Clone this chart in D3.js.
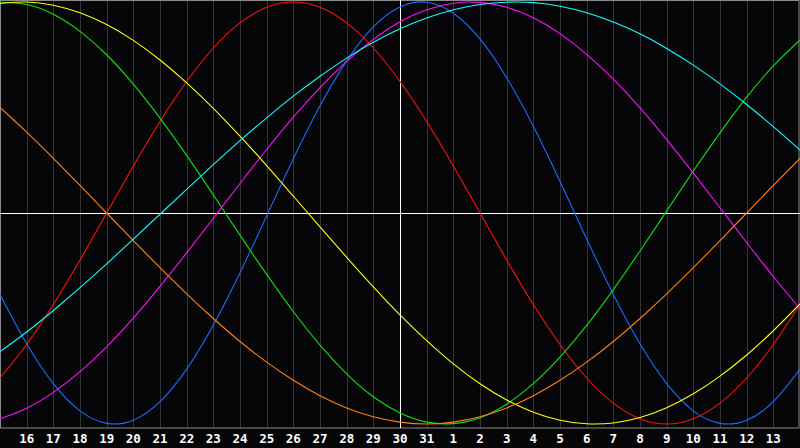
<!DOCTYPE html>
<html>
<head>
<meta charset="utf-8">
<script src="https://cdn.jsdelivr.net/npm/d3@7"></script>
<style>
  body { margin: 0; background: #060609; }
  svg { display: block; }
</style>
</head>
<body>
<div id="chart"></div>
<script>
// Day labels along the bottom (one per grid line)
const dayLabels = ["16","17","18","19","20","21","22","23","24","25","26","27","28","29","30","31",
                   "1","2","3","4","5","6","7","8","9","10","11","12","13"];

// Cycle values (-1..1), one per day (31 days, left edge to right edge)
const physical = [-0.386,-0.620,-0.809,-0.938,-0.997,-0.982,-0.894,-0.740,-0.531,-0.283,-0.014,0.257,0.508,0.721,0.882,0.976,
                  0.999,0.947,0.825,0.641,0.411,0.150,-0.123,-0.386,-0.620,-0.809,-0.938,-0.997,-0.982,-0.894,-0.740];
const emotional = [-0.782,-0.623,-0.434,-0.223,0.000,0.223,0.434,0.623,0.782,0.901,0.975,1.000,0.975,0.901,0.782,0.623,
                   0.434,0.223,0.000,-0.223,-0.434,-0.623,-0.782,-0.901,-0.975,-1.000,-0.975,-0.901,-0.782,-0.623,-0.434];
const intellectual = [0.999,0.988,0.942,0.861,0.750,0.611,0.450,0.273,0.086,-0.105,-0.291,-0.467,-0.626,-0.762,-0.871,-0.948,
                      -0.991,-0.998,-0.970,-0.906,-0.809,-0.683,-0.533,-0.363,-0.180,0.010,0.199,0.380,0.549,0.697,0.820];
const intuitive = [-0.975,-0.925,-0.850,-0.752,-0.634,-0.498,-0.348,-0.189,-0.025,0.140,0.301,0.454,0.594,0.719,0.823,0.906,
                   0.963,0.994,0.998,0.975,0.925,0.850,0.752,0.634,0.498,0.348,0.189,0.025,-0.140,-0.301,-0.454];
const aesthetic = [0.993,1.000,0.985,0.949,0.893,0.818,0.725,0.617,0.496,0.364,0.225,0.080,-0.066,-0.210,-0.350,-0.483,
                   -0.605,-0.715,-0.809,-0.886,-0.944,-0.982,-0.999,-0.995,-0.969,-0.923,-0.857,-0.773,-0.673,-0.558,-0.431];
const awareness = [0.500,0.383,0.259,0.131,0.000,-0.131,-0.259,-0.383,-0.500,-0.609,-0.707,-0.793,-0.866,-0.924,-0.966,-0.991,
                   -1.000,-0.991,-0.966,-0.924,-0.866,-0.793,-0.707,-0.609,-0.500,-0.383,-0.259,-0.131,0.000,0.131,0.259];
const spiritual = [-0.657,-0.564,-0.462,-0.354,-0.241,-0.124,-0.006,0.112,0.229,0.343,0.451,0.554,0.648,0.734,0.809,0.873,
                   0.924,0.963,0.988,0.999,0.997,0.980,0.949,0.905,0.849,0.780,0.701,0.612,0.514,0.409,0.298];

const series = [
  { name: "Physical", values: physical, color: "#1a6cff" },
  { name: "Emotional", values: emotional, color: "#ff1010" },
  { name: "Intellectual", values: intellectual, color: "#10e010" },
  { name: "Intuitive", values: intuitive, color: "#ff10ff" },
  { name: "Aesthetic", values: aesthetic, color: "#ffff10" },
  { name: "Awareness", values: awareness, color: "#ff8010" },
  { name: "Spiritual", values: spiritual, color: "#10ffff" }
];

const width = 800, height = 448;
const plotBottom = 428;

const svg = d3.select("#chart").append("svg")
    .attr("width", width)
    .attr("height", height)
    .style("background", "#060609");

// x: day index 0..30 across the full width, y: cycle value
const x = d3.scaleLinear().domain([0, 30]).range([0, 800]);
const y = d3.scaleLinear().domain([-1, 1]).range([424, 2]);

// vertical day grid lines
svg.append("g")
  .selectAll("line")
  .data(dayLabels)
  .enter().append("line")
    .attr("x1", (d, i) => Math.round(x(i + 1)) + 0.5)
    .attr("x2", (d, i) => Math.round(x(i + 1)) + 0.5)
    .attr("y1", 0)
    .attr("y2", plotBottom)
    .attr("stroke", "#333336")
    .attr("stroke-width", 1);

// frame
svg.append("rect")
    .attr("x", 0.5)
    .attr("y", 0.5)
    .attr("width", 798.5)
    .attr("height", plotBottom - 0.5)
    .attr("fill", "none")
    .attr("stroke", "#8a8a8a")
    .attr("stroke-width", 1);

// zero line and "today" line
svg.append("line")
    .attr("x1", 0).attr("x2", width)
    .attr("y1", Math.round(y(0)) + 0.5).attr("y2", Math.round(y(0)) + 0.5)
    .attr("stroke", "#ffffff");

svg.append("line")
    .attr("x1", Math.round(x(15)) + 0.5).attr("x2", Math.round(x(15)) + 0.5)
    .attr("y1", 0).attr("y2", plotBottom)
    .attr("stroke", "#ffffff");

// the cycle curves
const line = d3.line()
    .x((d, i) => x(i))
    .y(d => y(d))
    .curve(d3.curveNatural);

svg.append("g")
  .selectAll("path")
  .data(series)
  .enter().append("path")
    .attr("d", d => line(d.values))
    .attr("fill", "none")
    .attr("stroke", d => d.color)
    .attr("stroke-width", 1.1);

// day labels
svg.append("g")
  .selectAll("text")
  .data(dayLabels)
  .enter().append("text")
    .attr("x", (d, i) => x(i + 1))
    .attr("y", 443)
    .attr("text-anchor", "middle")
    .attr("fill", "#ffffff")
    .style("font-family", "'DejaVu Sans Mono', monospace")
    .style("font-weight", "bold")
    .style("font-size", "12.5px")
    .text(d => d);
</script>
</body>
</html>
